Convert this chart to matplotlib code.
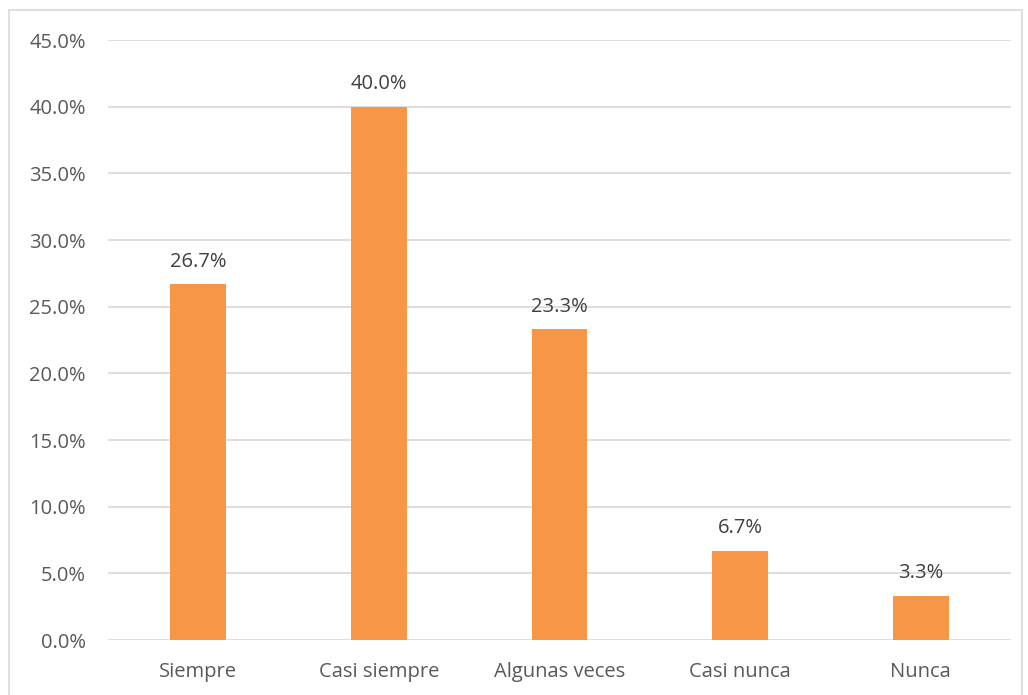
import matplotlib.pyplot as plt
from matplotlib.patches import Rectangle
from matplotlib.ticker import PercentFormatter

categorias = ['Siempre', 'Casi siempre', 'Algunas veces', 'Casi nunca', 'Nunca']
valores = [26.7, 40.0, 23.3, 6.7, 3.3]

plt.rcParams['font.family'] = ['Open Sans', 'DejaVu Sans']
gris = '#595959'

fig = plt.figure(figsize=(10.28, 6.95), dpi=100)
fig.patches.append(Rectangle((9 / 1028, -0.01), 1013 / 1028, 1 - 10 / 695 + 0.01,
                             transform=fig.transFigure, fill=False,
                             edgecolor='#D9D9D9', linewidth=1.2))
ax = fig.add_axes([108 / 1028, 1 - 640 / 695, 903 / 1028, 600 / 695])

x = range(len(categorias))
barras = ax.bar(x, valores, width=0.31, color='#F79646', zorder=3)
for b, v in zip(barras, valores):
    ax.annotate(f'{v:.1f}%', (b.get_x() + b.get_width() / 2, v),
                xytext=(0, 9), textcoords='offset points',
                ha='center', va='bottom', fontsize=14.5, color='#404040')

ax.set_xlim(-0.5, len(categorias) - 0.5)
ax.set_ylim(0, 45)
ax.set_yticks(range(0, 46, 5))
ax.yaxis.set_major_formatter(PercentFormatter(decimals=1))
ax.set_xticks(list(x))
ax.set_xticklabels(categorias)
ax.tick_params(axis='both', length=0, labelsize=14.5, labelcolor=gris)
ax.tick_params(axis='x', pad=16)
ax.tick_params(axis='y', pad=16)
ax.grid(axis='y', color='#D9D9D9', linewidth=1.2, zorder=0)
for s in ax.spines.values():
    s.set_visible(False)

fig.savefig('out.png', dpi=100)
